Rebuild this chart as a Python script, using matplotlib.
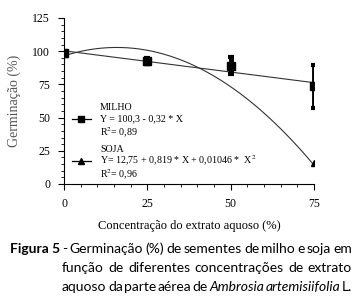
import numpy as np
import matplotlib
matplotlib.use("Agg")
import matplotlib.pyplot as plt
from matplotlib.lines import Line2D

# Data
conc = [0, 25, 50, 75]
milho = [98.5, 92.8, 89.0, 73.5]
milho_err = [1.5, 2.0, 6.5, 16.0]
soja = [98.0, 92.0, 89.0, 16.0]

# Fitted curves
milho_coef = [100.3, -0.32]
soja_coef = [96.5, 0.80, -0.0253]

xticks = [0, 25, 50, 75]
yticks = [0, 25, 50, 75, 100, 125]

caption_lines = [
    [("Figura 5", "bold"), ("-", "normal"), ("Germinação", "normal"), ("(%)", "normal"),
     ("de", "normal"), ("sementes", "normal"), ("de", "normal"), ("milho", "normal"),
     ("e", "normal"), ("soja", "normal"), ("em", "normal")],
    [("função", "normal"), ("de", "normal"), ("diferentes", "normal"),
     ("concentrações", "normal"), ("de", "normal"), ("extrato", "normal")],
    [("aquoso", "normal"), ("da", "normal"), ("parte", "normal"), ("aérea", "normal"),
     ("de", "normal"), ("Ambrosia", "italic"), ("artemisiifolia", "italic"), ("L.", "normal")],
]

serif = "Liberation Serif"
W, H = 361, 301


def main():
    fig = plt.figure(figsize=(W / 100, H / 100), dpi=100)
    ax = fig.add_axes([64 / W, 1 - 184 / H, 250 / W, 166 / H])

    xs = np.linspace(0, 75, 200)
    ax.plot(xs, milho_coef[0] + milho_coef[1] * xs, color="#333333", lw=0.8)
    ax.plot(xs, soja_coef[0] + soja_coef[1] * xs + soja_coef[2] * xs ** 2,
            color="#333333", lw=0.8)

    ax.plot(conc, soja, linestyle="none", marker="^", color="black", ms=4)
    ax.errorbar(conc, milho, yerr=milho_err, fmt="s", color="black", ms=5.5,
                elinewidth=3.5, capsize=2.5, capthick=3)

    ax.set_xlim(0, 75)
    ax.set_ylim(0, 125)
    ax.set_xticks(xticks)
    ax.set_yticks(yticks)
    ax.set_xticks(np.arange(0, 76, 5), minor=True)
    ax.set_yticks(np.arange(0, 126, 5), minor=True)
    for s in ["top", "right"]:
        ax.spines[s].set_visible(False)
    for s in ["left", "bottom"]:
        ax.spines[s].set_linewidth(0.8)
    ax.tick_params(which="major", length=4, width=0.8, labelsize=8.5, pad=6)
    ax.tick_params(which="minor", length=2.5, width=0.6)
    for lab in ax.get_xticklabels() + ax.get_yticklabels():
        lab.set_fontfamily(serif)
    ax.set_xlabel("Concentração do extrato aquoso (%)", fontfamily=serif,
                  fontsize=9, labelpad=7)
    ax.set_ylabel("Germinação (%)", fontfamily=serif, fontsize=10, labelpad=8,
                  color="#555555")

    # legend drawn by hand
    def ax_xy(px, py):
        return (px - 64) / 250, (184 - py) / 166

    for py, mk, label, eq, r2 in [(119, "s", "MILHO", "Y = 100,3 - 0,32 * X", "R$^2$= 0,89"),
                                  (161, "^", "SOJA", "Y= 12,75 + 0,819 * X + 0,01046 *  X$^2$",
                                   "R$^2$= 0,96")]:
        x0, y0 = ax_xy(72, py)
        x1, _ = ax_xy(91, py)
        xm, _ = ax_xy(81, py)
        ax.add_line(Line2D([x0, x1], [y0, y0], transform=ax.transAxes, color="black", lw=0.9))
        ax.add_line(Line2D([xm], [y0], transform=ax.transAxes, color="black", marker=mk,
                           ms=5 if mk == "s" else 4.5))
        tx, _ = ax_xy(100, py)
        for dy, txt in [(-12, label), (0, eq), (14, r2)]:
            _, ty = ax_xy(100, py + dy)
            ax.text(tx, ty, txt, transform=ax.transAxes, fontfamily=serif, fontsize=7.2,
                    va="center", ha="left", math_fontfamily="stix")

    # caption, justified word by word
    renderer = fig.canvas.get_renderer()
    line_y = [249, 268, 287]
    line_x0 = [10, 62, 62]
    x_right = 352
    for i, words in enumerate(caption_lines):
        texts = []
        for w, style in words:
            t = fig.text(0, 1 - line_y[i] / H, w, fontfamily="Lato", fontsize=10,
                         fontweight="bold" if style == "bold" else "normal",
                         fontstyle="italic" if style == "italic" else "normal",
                         va="center", ha="left")
            texts.append(t)
        widths = [t.get_window_extent(renderer).width for t in texts]
        gap = (x_right - line_x0[i] - sum(widths)) / (len(texts) - 1)
        x = line_x0[i]
        for t, wd in zip(texts, widths):
            t.set_x(x / W)
            x += wd + gap

    fig.savefig("out.png", dpi=100)


if __name__ == "__main__":
    main()
